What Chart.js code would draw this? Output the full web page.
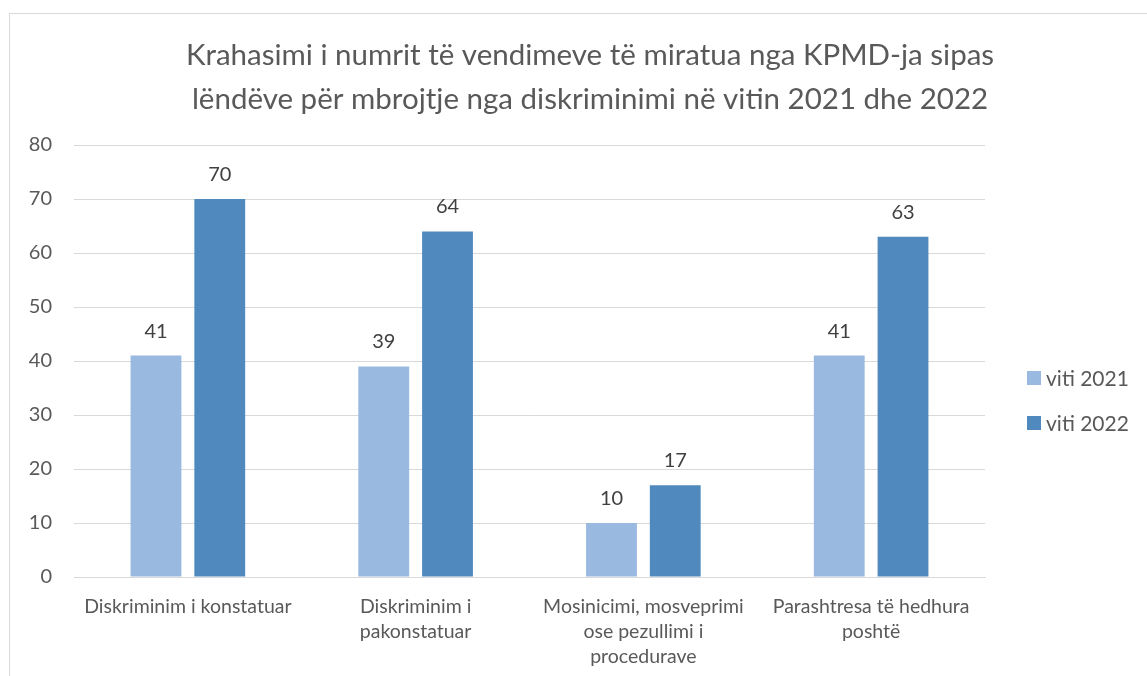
<!DOCTYPE html>
<html><head><meta charset="utf-8">
<script src="https://cdn.jsdelivr.net/npm/chart.js@4/dist/chart.umd.min.js"></script>
<style>
html,body{margin:0;padding:0;background:#fff;overflow:hidden;width:1147px;height:676px;}
#wrap{position:absolute;left:9px;top:13px;border:1px solid #d9d9d9;width:1160px;height:700px;}
canvas{display:block;}
</style></head>
<body>
<div id="wrap"><canvas id="c" width="1160" height="662"></canvas></div>
<script>
const titleLines = ["Krahasimi i numrit të vendimeve të miratua nga KPMD-ja sipas", "lëndëve për mbrojtje nga diskriminimi në vitin 2021 dhe 2022"];
const categories = [["Diskriminim i konstatuar"], ["Diskriminim i", "pakonstatuar"], ["Mosinicimi, mosveprimi", "ose pezullimi i", "procedurave"], ["Parashtresa të hedhura", "poshtë"]];
const seriesNames = ["viti 2021", "viti 2022"];
const values2021 = [41, 39, 10, 41];
const values2022 = [70, 64, 17, 63];
const yTicks = [0, 10, 20, 30, 40, 50, 60, 70, 80];

const FONT = "Lato";
const TXT = "#595959";

const dataLabels = {
  id: 'dataLabels',
  afterDatasetsDraw(chart) {
    const ctx = chart.ctx;
    ctx.save();
    ctx.font = "20px " + FONT;
    ctx.fillStyle = "#404040";
    ctx.textAlign = "center";
    ctx.textBaseline = "alphabetic";
    chart.data.datasets.forEach((ds, i) => {
      const meta = chart.getDatasetMeta(i);
      meta.data.forEach((bar, j) => {
        ctx.fillText(String(ds.data[j]), bar.x, bar.y - 18);
      });
    });
    ctx.restore();
  }
};

const sideLegend = {
  id: 'sideLegend',
  afterDraw(chart) {
    const ctx = chart.ctx;
    ctx.save();
    ctx.font = "21px " + FONT;
    ctx.textBaseline = "middle";
    ctx.textAlign = "left";
    const x0 = chart.chartArea.right + 42;
    const y0 = 364;
    chart.data.datasets.forEach((ds, i) => {
      const y = y0 + i * 45;
      ctx.fillStyle = ds.backgroundColor;
      ctx.fillRect(x0, y - 7, 14, 14);
      ctx.fillStyle = TXT;
      ctx.fillText(ds.label, x0 + 19, y + 1);
    });
    ctx.restore();
  }
};

new Chart(document.getElementById('c'), {
  type: 'bar',
  data: {
    labels: categories,
    datasets: [
      { label: seriesNames[0], data: values2021, backgroundColor: '#99B9E0' },
      { label: seriesNames[1], data: values2022, backgroundColor: '#4F89BD' }
    ]
  },
  options: {
    responsive: false,
    animation: false,
    layout: { padding: 0 },
    datasets: { bar: { categoryPercentage: 0.56, barPercentage: 0.797 } },
    plugins: {
      legend: { display: false },
      tooltip: { enabled: false },
      title: {
        display: true,
        text: titleLines,
        color: TXT,
        font: { family: FONT, size: 29.5, weight: 'normal', lineHeight: 44 / 29.5 },
        padding: { top: 19, bottom: 24 }
      }
    },
    scales: {
      x: {
        grid: { display: false },
        border: { color: '#d9d9d9' },
        ticks: { color: TXT, font: { family: FONT, size: 19.5, lineHeight: 25 / 19.5 }, padding: 9, maxRotation: 0, autoSkip: false },
        afterFit(s) { s.height = 99; }
      },
      y: {
        min: 0, max: 80,
        afterBuildTicks(s) { s.ticks = yTicks.map(v => ({ value: v })); },
        grid: { color: '#d9d9d9', drawTicks: false },
        border: { display: false },
        ticks: { color: TXT, font: { family: FONT, size: 20 }, padding: 22 },
        afterFit(s) { s.width = 64; }
      },
      space: {
        type: 'linear', position: 'right', display: true,
        grid: { display: false, drawOnChartArea: false },
        border: { display: false },
        ticks: { display: false },
        afterFit(s) { s.width = 185; }
      }
    }
  },
  plugins: [dataLabels, sideLegend]
});
</script>
</body></html>
